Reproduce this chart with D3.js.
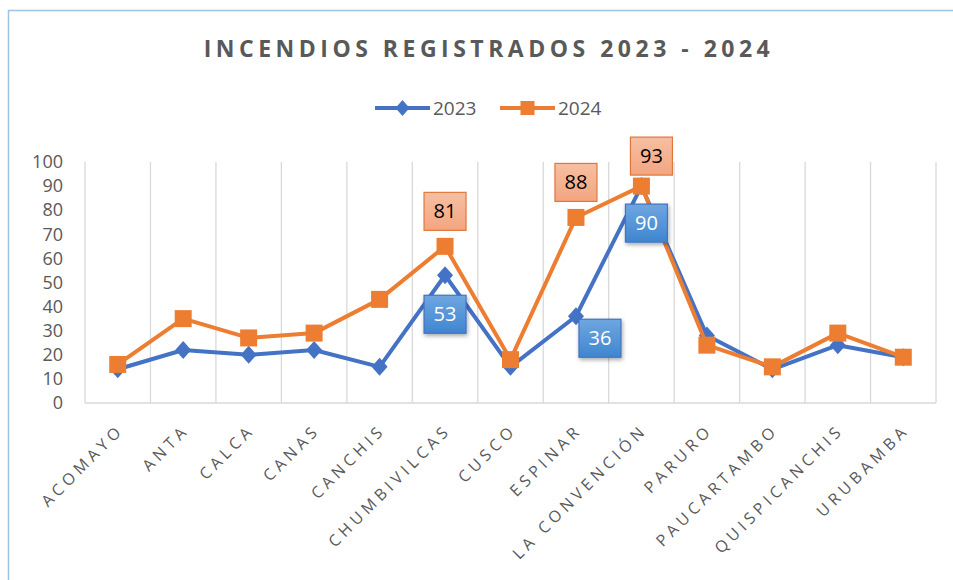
<!DOCTYPE html>
<html lang="es">
  <head>
    <meta charset="UTF-8" />
    <title>Incendios registrados</title>
    <script src="https://d3js.org/d3.v7.min.js"></script>
    <style>
      body {
        margin: 0;
        background: #fff;
      }
      svg {
        display: block;
        font-family: "Open Sans", "Noto Sans", sans-serif;
      }
    </style>
  </head>
  <body>
    <svg width="953" height="580"></svg>
    <script>
      const provinces = [
        "ACOMAYO",
        "ANTA",
        "CALCA",
        "CANAS",
        "CANCHIS",
        "CHUMBIVILCAS",
        "CUSCO",
        "ESPINAR",
        "LA CONVENCIÓN",
        "PARURO",
        "PAUCARTAMBO",
        "QUISPICANCHIS",
        "URUBAMBA",
      ];
      const values2023 = [14, 22, 20, 22, 15, 53, 15, 36, 90, 28, 14, 24, 19];
      const values2024 = [16, 35, 27, 29, 43, 65, 18, 77, 90, 24, 15, 29, 19];
      const yTicks = [0, 10, 20, 30, 40, 50, 60, 70, 80, 90, 100];

      // data labels as they appear on the chart (text differs from plotted value)
      const labels2023 = [
        { name: "CHUMBIVILCAS", text: "53" },
        { name: "ESPINAR", text: "36" },
        { name: "LA CONVENCIÓN", text: "90" },
      ];
      const labels2024 = [
        { name: "CHUMBIVILCAS", text: "81" },
        { name: "ESPINAR", text: "88" },
        { name: "LA CONVENCIÓN", text: "93" },
      ];
      // where each label box sits relative to its point
      const labelOffsets = {
        "2023": [[0, 39], [24, 22], [5, 37]],
        "2024": [[0, -35], [0, -35], [10, -30]],
      };

      const svg = d3.select("svg");
      const margin = { top: 162, right: 17, bottom: 177, left: 85 };
      const W = 953, H = 580;

      // diamond a bit taller than wide, like the spreadsheet marker
      const diamond = (hw, hh) => `M0,${-hh}L${hw},0L0,${hh}L${-hw},0Z`;

      // chart frame
      svg.append("path")
        .attr("d", `M8.5,${H} V10.5 H${W}`)
        .attr("fill", "none")
        .attr("stroke", "#9dc3e6")
        .attr("stroke-width", 1.5);

      const x = d3.scaleBand()
        .domain(provinces)
        .range([margin.left, W - margin.right])
        .padding(0);

      const y = d3.scaleLinear()
        .domain([0, 100])
        .range([H - margin.bottom, margin.top]);

      // gridlines (vertical, at category boundaries)
      const edges = provinces.map((p) => x(p)).concat([x.range()[1]]);
      svg.append("g")
        .selectAll("line")
        .data(edges)
        .join("line")
        .attr("x1", (d) => d)
        .attr("x2", (d) => d)
        .attr("y1", y(100))
        .attr("y2", y(0))
        .attr("stroke", "#d9d9d9")
        .attr("stroke-width", 1.3);

      svg.append("line")
        .attr("x1", x.range()[0])
        .attr("x2", x.range()[1])
        .attr("y1", y(0))
        .attr("y2", y(0))
        .attr("stroke", "#d9d9d9")
        .attr("stroke-width", 1.5);

      // y axis labels
      const yAxis = svg.append("g")
        .attr("transform", `translate(${margin.left - 22},0)`)
        .call(d3.axisLeft(y).tickValues(yTicks).tickSize(0).tickPadding(0));
      yAxis.select(".domain").remove();
      yAxis.selectAll("text")
        .attr("fill", "#595959")
        .style("font-size", "18px")
        .style("font-family", "'Open Sans', sans-serif");

      // x axis labels, rotated
      const xAxis = svg.append("g")
        .attr("transform", `translate(0,${y(0)})`)
        .call(d3.axisBottom(x).tickSize(0).tickPadding(0));
      xAxis.select(".domain").remove();
      xAxis.selectAll("text")
        .attr("fill", "#595959")
        .attr("text-anchor", "end")
        .attr("dy", 0)
        .attr("transform", "translate(7,28) rotate(-45)")
        .style("font-size", "16px")
        .style("letter-spacing", "4.3px")
        .style("font-family", "'Open Sans', sans-serif");

      const cxOf = (i) => x(provinces[i]) + x.bandwidth() / 2;
      const line = d3.line()
        .x((d, i) => cxOf(i))
        .y((d) => y(d));

      // 2023 series
      svg.append("path")
        .datum(values2023)
        .attr("d", line)
        .attr("fill", "none")
        .attr("stroke", "#4472c4")
        .attr("stroke-width", 4)
        .attr("stroke-linejoin", "round");
      svg.append("g")
        .selectAll("path")
        .data(values2023)
        .join("path")
        .attr("d", diamond(8, 9))
        .attr("transform", (d, i) => `translate(${cxOf(i)},${y(d)})`)
        .attr("fill", "#4472c4");

      // 2024 series
      svg.append("path")
        .datum(values2024)
        .attr("d", line)
        .attr("fill", "none")
        .attr("stroke", "#ed7d31")
        .attr("stroke-width", 4)
        .attr("stroke-linejoin", "round");
      svg.append("g")
        .selectAll("rect")
        .data(values2024)
        .join("rect")
        .attr("x", (d, i) => cxOf(i) - 8.5)
        .attr("y", (d) => y(d) - 8.5)
        .attr("width", 17)
        .attr("height", 17)
        .attr("fill", "#ed7d31");

      // gradients + shadow for label boxes
      const defs = svg.append("defs");
      const gBlue = defs.append("linearGradient").attr("id", "gBlue")
        .attr("x1", 0).attr("y1", 0).attr("x2", 0).attr("y2", 1);
      gBlue.append("stop").attr("offset", "0%").attr("stop-color", "#6fa6e0");
      gBlue.append("stop").attr("offset", "100%").attr("stop-color", "#3f86cf");
      const gOrange = defs.append("linearGradient").attr("id", "gOrange")
        .attr("x1", 0).attr("y1", 0).attr("x2", 0).attr("y2", 1);
      gOrange.append("stop").attr("offset", "0%").attr("stop-color", "#f7bfa2");
      gOrange.append("stop").attr("offset", "100%").attr("stop-color", "#f3a580");
      const shadow = defs.append("filter").attr("id", "shadow")
        .attr("x", "-30%").attr("y", "-30%").attr("width", "160%").attr("height", "160%");
      shadow.append("feDropShadow")
        .attr("dx", 1).attr("dy", 2).attr("stdDeviation", 2)
        .attr("flood-color", "#000").attr("flood-opacity", 0.35);

      function drawLabels(list, values, offsets, fill, stroke, textColor, filter) {
        const g = svg.append("g");
        list.forEach((l, k) => {
          const i = provinces.indexOf(l.name);
          const cx = cxOf(i) + offsets[k][0];
          const cy = y(values[i]) + offsets[k][1];
          g.append("rect")
            .attr("x", cx - 21)
            .attr("y", cy - 19)
            .attr("width", 42)
            .attr("height", 38)
            .attr("fill", fill)
            .attr("stroke", stroke)
            .attr("stroke-width", 1.2)
            .attr("filter", filter);
          g.append("text")
            .attr("x", cx)
            .attr("y", cy)
            .attr("dy", "0.35em")
            .attr("text-anchor", "middle")
            .attr("fill", textColor)
            .style("font-size", "20px")
            .text(l.text);
        });
      }
      drawLabels(labels2024, values2024, labelOffsets["2024"],
        "url(#gOrange)", "#e0773a", "#000", null);
      drawLabels(labels2023, values2023, labelOffsets["2023"],
        "url(#gBlue)", "#4472c4", "#fff", "url(#shadow)");

      // title
      svg.append("text")
        .attr("x", 489)
        .attr("y", 57)
        .attr("text-anchor", "middle")
        .attr("fill", "#595959")
        .style("font-size", "23px")
        .style("font-weight", "bold")
        .style("letter-spacing", "4.5px")
        .text("INCENDIOS REGISTRADOS 2023 - 2024");

      // legend
      const legend = [
        { name: "2023", color: "#4472c4", shape: "diamond", x: 375 },
        { name: "2024", color: "#ed7d31", shape: "square", x: 500 },
      ];
      const lg = svg.append("g");
      legend.forEach((d) => {
        lg.append("line")
          .attr("x1", d.x).attr("x2", d.x + 55)
          .attr("y1", 108).attr("y2", 108)
          .attr("stroke", d.color).attr("stroke-width", 4);
        if (d.shape === "diamond") {
          lg.append("path")
            .attr("d", diamond(7, 8))
            .attr("transform", `translate(${d.x + 27.5},108)`)
            .attr("fill", d.color);
        } else {
          lg.append("rect")
            .attr("x", d.x + 27.5 - 7).attr("y", 101)
            .attr("width", 14).attr("height", 14)
            .attr("fill", d.color);
        }
        lg.append("text")
          .attr("x", d.x + 58)
          .attr("y", 108)
          .attr("dy", "0.35em")
          .attr("fill", "#595959")
          .style("font-size", "19px")
          .text(d.name);
      });
    </script>
  </body>
</html>
